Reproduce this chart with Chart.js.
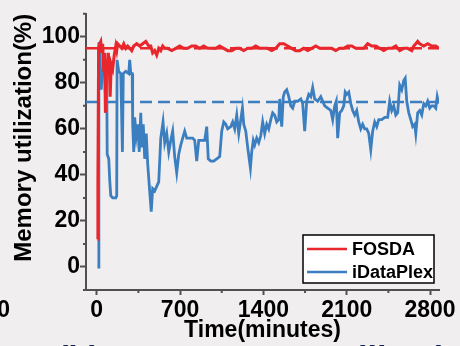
<!DOCTYPE html>
<html>
<head>
<meta charset="utf-8">
<script src="https://cdn.jsdelivr.net/npm/chart.js@4.4.1/dist/chart.umd.min.js"></script>
<style>
  html, body { margin: 0; padding: 0; background: #f0eeef; }
  #wrap { width: 460px; height: 346px; }
</style>
</head>
<body>
<div id="wrap"><canvas id="memChart" width="460" height="346"></canvas></div>
<script>
// [time (minutes), memory utilization (%)]
var fosdaData = [
    [8, 12], [10, 38], [16, 95], [25, 97], [34, 98], [42, 93], [50, 97], [59, 85], [67, 93],
    [73, 67], [80, 90], [88, 84], [97, 93], [105, 88], [113, 74], [122, 88], [134, 86],
    [147, 92], [160, 96], [168, 94], [176, 97], [193, 96], [210, 95], [227, 97], [244, 95],
    [260, 96], [277, 95], [294, 94], [311, 96], [336, 97], [361, 96], [386, 97], [412, 98],
    [437, 96], [454, 96], [470, 93], [487, 94], [504, 92], [521, 95], [538, 94], [554, 96],
    [571, 95], [596, 95], [630, 94], [664, 95], [697, 96], [731, 95], [764, 95], [798, 96],
    [832, 96], [865, 95], [899, 96], [932, 95], [966, 95], [1000, 95], [1033, 96], [1067, 95],
    [1100, 94], [1134, 94], [1168, 95], [1201, 95], [1235, 94], [1268, 95], [1302, 95],
    [1336, 96], [1369, 95], [1403, 95], [1436, 95], [1470, 94], [1504, 95], [1537, 97],
    [1571, 97], [1604, 96], [1638, 95], [1672, 94], [1705, 94], [1739, 95], [1772, 94],
    [1806, 95], [1840, 96], [1873, 95], [1907, 95], [1940, 95], [1974, 95], [2008, 94],
    [2041, 95], [2075, 95], [2108, 96], [2142, 96], [2176, 95], [2209, 95], [2243, 95],
    [2276, 97], [2310, 96], [2344, 96], [2377, 95], [2411, 94], [2444, 95], [2478, 95],
    [2512, 96], [2545, 94], [2579, 95], [2612, 95], [2646, 94], [2663, 96], [2680, 97],
    [2696, 98], [2713, 97], [2747, 96], [2780, 97], [2814, 96], [2848, 96], [2873, 95]
];

var iDataPlexData = [
    [6, 0], [14, 0], [18, 97], [25, 97], [38, 77], [46, 84], [59, 86], [67, 88], [76, 67],
    [84, 84], [88, 49], [101, 47], [109, 38], [118, 31], [134, 30], [160, 30], [168, 31],
    [171, 90], [185, 85], [202, 84], [216, 50], [223, 84], [244, 85], [269, 84], [277, 90],
    [286, 84], [298, 84], [302, 62], [311, 50], [319, 65], [332, 57], [344, 62], [357, 50],
    [370, 67], [378, 52], [391, 62], [403, 47], [416, 58], [428, 45], [445, 33], [458, 24],
    [470, 34], [487, 33], [504, 35], [521, 37], [538, 56], [557, 63], [571, 54], [588, 58],
    [605, 50], [622, 55], [638, 59], [655, 48], [672, 41], [689, 49], [706, 53], [722, 56],
    [739, 59], [756, 56], [781, 56], [806, 56], [823, 55], [840, 46], [857, 55], [890, 55],
    [907, 55], [924, 61], [937, 47], [958, 46], [983, 46], [1008, 47], [1033, 48], [1050, 59],
    [1067, 63], [1084, 62], [1100, 60], [1126, 61], [1142, 63], [1159, 60], [1176, 66],
    [1193, 58], [1210, 64], [1224, 69], [1235, 62], [1252, 59], [1268, 52], [1291, 43],
    [1302, 50], [1315, 55], [1327, 53], [1344, 56], [1361, 54], [1378, 57], [1394, 63],
    [1411, 58], [1428, 62], [1445, 60], [1462, 64], [1478, 67], [1495, 66], [1512, 63],
    [1529, 64], [1537, 73], [1554, 61], [1567, 74], [1579, 76], [1596, 77], [1613, 74],
    [1630, 70], [1646, 69], [1663, 72], [1688, 72], [1714, 73], [1730, 71], [1747, 59],
    [1764, 72], [1781, 75], [1798, 74], [1814, 78], [1831, 73], [1856, 72], [1882, 74],
    [1898, 72], [1915, 70], [1940, 69], [1966, 68], [1982, 64], [1999, 70], [2012, 72],
    [2024, 56], [2041, 67], [2058, 68], [2075, 70], [2087, 76], [2100, 75], [2117, 76],
    [2134, 71], [2150, 68], [2167, 66], [2184, 68], [2201, 63], [2218, 60], [2234, 62],
    [2251, 60], [2268, 60], [2285, 58], [2302, 51], [2318, 59], [2335, 63], [2352, 61],
    [2369, 64], [2394, 64], [2419, 65], [2444, 65], [2461, 72], [2478, 68], [2495, 70],
    [2512, 66], [2528, 67], [2545, 79], [2562, 77], [2579, 81], [2591, 82], [2604, 72],
    [2621, 67], [2638, 64], [2654, 61], [2671, 62], [2680, 58], [2696, 67], [2713, 68],
    [2730, 66], [2747, 71], [2764, 70], [2780, 72], [2797, 69], [2814, 70], [2831, 70],
    [2848, 69], [2860, 74], [2873, 71]
];

var fosdaMean = 95;
var iDataPlexMean = 71.7;

var xRange = [-90, 2875];
var yRange = [-10, 110];
var xMajorTicks = [0, 700, 1400, 2100, 2800];
var xMinorTicks = [350, 1050, 1750, 2450];
var yMajorTicks = [0, 20, 40, 60, 80, 100];
var yMinorTicks = [-10, 10, 30, 50, 70, 90, 110];

var RED = '#e8262b';
var BLUE = '#3b7fc0';
var AXIS = '#505050';
var BG = '#f0eeef';
var FONT = '"Liberation Sans", Arial, sans-serif';

function toPoints(pairs) {
    return pairs.map(function (p) { return { x: p[0], y: p[1] }; });
}

var extras = {
    id: 'extras',
    beforeDraw: function (chart) {
        var ctx = chart.ctx;
        ctx.save();
        ctx.fillStyle = BG;
        ctx.fillRect(0, 0, chart.width, chart.height);
        // figure caption, cut off at the bottom and partly hidden behind the plot
        ctx.fillStyle = '#1a1f4e';
        ctx.font = 'bold 34px ' + FONT;
        ctx.textAlign = 'left';
        ctx.textBaseline = 'alphabetic';
        ctx.fillText('(b) Memory', 57, 369);
        ctx.fillText('utilization', 326, 369);
        ctx.fillStyle = BG;
        ctx.fillRect(131, 322, 215, 30);
        // last digit of the neighbouring panel's tick label
        ctx.fillStyle = '#000';
        ctx.font = 'bold 23px ' + FONT;
        ctx.textAlign = 'right';
        ctx.textBaseline = 'middle';
        ctx.fillText('0', 10, 311);
        ctx.restore();
    },
    afterDraw: function (chart) {
        var ctx = chart.ctx;
        var xs = chart.scales.x, ys = chart.scales.y;
        var area = chart.chartArea;
        ctx.save();
        ctx.strokeStyle = AXIS;
        ctx.lineWidth = 2;
        ctx.beginPath();
        xMinorTicks.forEach(function (v) {
            var px = xs.getPixelForValue(v);
            ctx.moveTo(px, area.bottom);
            ctx.lineTo(px, area.bottom + 3);
        });
        yMinorTicks.forEach(function (v) {
            var py = ys.getPixelForValue(v);
            ctx.moveTo(area.left, py);
            ctx.lineTo(area.left - 3, py);
        });
        ctx.stroke();

        // legend box
        var lx = 303, ly = 235, lw = 131, lh = 48;
        ctx.fillStyle = '#ffffff';
        ctx.fillRect(lx, ly, lw, lh);
        ctx.strokeStyle = '#000';
        ctx.lineWidth = 1.5;
        ctx.strokeRect(lx, ly, lw, lh);
        ctx.font = 'bold 18px ' + FONT;
        ctx.textAlign = 'left';
        ctx.textBaseline = 'middle';
        [0, 1].forEach(function (i) {
            var ds = chart.data.datasets[i];
            var yy = ly + 14 + i * 23;
            ctx.strokeStyle = ds.borderColor;
            ctx.lineWidth = 2.5;
            ctx.beginPath();
            ctx.moveTo(lx + 4, yy);
            ctx.lineTo(lx + 44, yy);
            ctx.stroke();
            ctx.fillStyle = '#000';
            ctx.fillText(ds.label, lx + 49, yy + 1);
        });
        ctx.restore();
    }
};

var tickFont = { family: FONT, size: 23, weight: 'bold' };

new Chart(document.getElementById('memChart'), {
    type: 'line',
    data: {
        datasets: [
            {
                label: 'FOSDA',
                data: toPoints(fosdaData),
                borderColor: RED,
                borderWidth: 3,
                pointRadius: 0,
                tension: 0
            },
            {
                label: 'iDataPlex',
                data: toPoints(iDataPlexData),
                borderColor: BLUE,
                borderWidth: 2.8,
                pointRadius: 0,
                tension: 0
            },
            {
                label: 'FOSDA mean',
                data: [{ x: xRange[0], y: fosdaMean }, { x: xRange[1], y: fosdaMean }],
                borderColor: RED,
                borderWidth: 2.5,
                borderDash: [12, 6],
                pointRadius: 0
            },
            {
                label: 'iDataPlex mean',
                data: [{ x: xRange[0], y: iDataPlexMean }, { x: xRange[1], y: iDataPlexMean }],
                borderColor: BLUE,
                borderWidth: 2.5,
                borderDash: [12, 6],
                pointRadius: 0
            }
        ]
    },
    options: {
        responsive: false,
        animation: false,
        devicePixelRatio: 1,
        layout: { padding: { top: 5, right: 21, left: 0, bottom: 0 } },
        plugins: {
            legend: { display: false },
            tooltip: { enabled: false }
        },
        scales: {
            x: {
                type: 'linear',
                min: xRange[0],
                max: xRange[1],
                afterBuildTicks: function (scale) {
                    scale.ticks = xMajorTicks.map(function (v) { return { value: v }; });
                },
                afterFit: function (scale) { scale.height = 56; },
                grid: {
                    drawOnChartArea: false,
                    drawTicks: true,
                    tickLength: 5,
                    tickColor: AXIS,
                    tickWidth: 2
                },
                border: { display: true, color: AXIS, width: 2 },
                ticks: {
                    color: '#000',
                    font: tickFont,
                    padding: 2,
                    maxRotation: 0,
                    autoSkip: false,
                    callback: function (value) { return String(value); }
                },
                title: {
                    display: true,
                    text: 'Time(minutes)',
                    color: '#000',
                    font: tickFont,
                    padding: { top: 0, bottom: 2 }
                }
            },
            y: {
                min: yRange[0],
                max: yRange[1],
                afterBuildTicks: function (scale) {
                    scale.ticks = yMajorTicks.map(function (v) { return { value: v }; });
                },
                afterFit: function (scale) { scale.width = 86; },
                grid: {
                    drawOnChartArea: false,
                    drawTicks: true,
                    tickLength: 6,
                    tickColor: AXIS,
                    tickWidth: 2
                },
                border: { display: true, color: AXIS, width: 2 },
                ticks: {
                    color: '#000',
                    font: tickFont,
                    padding: 0
                },
                title: {
                    display: true,
                    text: 'Memory utilization(%)',
                    align: 'end',
                    color: '#000',
                    font: { family: FONT, size: 24, weight: 'bold' },
                    padding: { top: 10, bottom: 0 }
                }
            }
        }
    },
    plugins: [extras]
});
</script>
</body>
</html>
